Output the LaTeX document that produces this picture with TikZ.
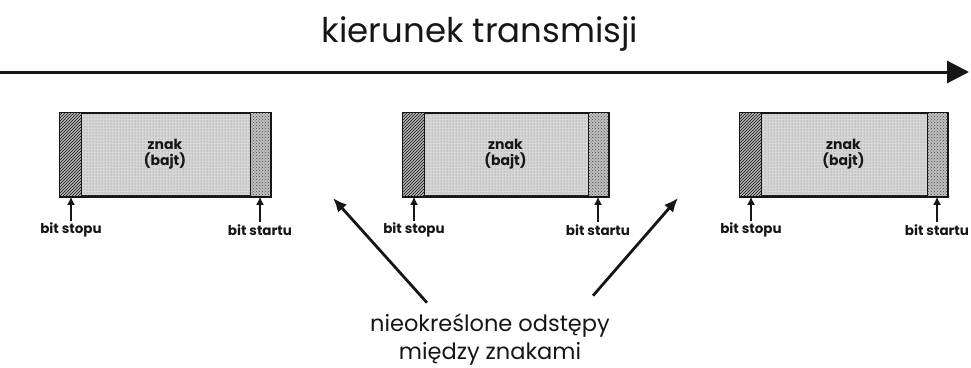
\documentclass[tikz,border=0pt]{standalone}
\usepackage{fontspec}
\setmainfont{Poppins}
\usetikzlibrary{arrows.meta,positioning,patterns}
\definecolor{ink}{HTML}{161616}
\definecolor{paper}{HTML}{D6D6D6}
\tikzset{>=Latex,line width=.8pt,
  every node/.style={text=ink},
  charbox/.style={draw=ink,line width=1.5pt,fill=paper,inner sep=0pt,
    minimum height=83pt,align=center,font=\fontsize{14}{16}\selectfont\bfseries,
    postaction={pattern=dots,pattern color=black!50}},
  stopstrip/.style={fill=black!30,postaction={pattern=north east lines,pattern color=ink}},
  startstrip/.style={fill=black!25,postaction={pattern=crosshatch dots,pattern color=black!70}},
  tick/.style={->,draw=ink,line width=2pt,>={Latex[length=8pt,width=8pt]}},
  bitlabel/.style={font=\fontsize{13.5}{14}\selectfont\bfseries,inner sep=2pt},
  pointer/.style={->,draw=ink,line width=2.8pt,>={Latex[length=14pt,width=12pt]}},
  flow/.style={draw=ink,line width=3pt,-{Triangle[length=22pt,width=22pt]}}}

\begin{document}
\begin{tikzpicture}[x=1pt,y=-1pt]
\useasboundingbox (0,0) rectangle (971,367);
% kierunek
\node[font=\fontsize{34}{36}\selectfont] (title) at (480,34) {kierunek transmisji};
\coordinate (ta) at (0,72);
\coordinate (tb) at (969,72);
\draw[flow] (ta) -- (tb);
% znaki
\foreach \i/\l/\r in {1/60/270,2/403/608,3/740/947}{
  \pgfmathsetmacro{\w}{\r-\l}
  \node[charbox,minimum width=\w pt] (b\i) at ({(\l+\r)/2},154.5) {znak\\(bajt)};
  \fill[stopstrip] (b\i.north west) rectangle ([xshift=22pt]b\i.south west);
  \fill[startstrip] ([xshift=-20pt]b\i.north east) rectangle (b\i.south east);
  \draw[ink,line width=1.2pt] ([xshift=22pt]b\i.north west) -- ([xshift=22pt]b\i.south west);
  \draw[ink,line width=1.2pt] ([xshift=-20pt]b\i.north east) -- ([xshift=-20pt]b\i.south east);
  \draw[ink,line width=1.5pt] (b\i.north west) rectangle (b\i.south east);
  \node[bitlabel] (stop\i) at (\l+11,230) {bit stopu};
  \node[bitlabel] (start\i) at (\r-10,230) {bit startu};
  \draw[tick] (stop\i.north) -- (stop\i.north |- b\i.south);
  \draw[tick] (start\i.north) -- (start\i.north |- b\i.south);
}
% odstepy
\node[align=center,font=\fontsize{22.5}{28}\selectfont] (gap) at (490,340) {nieokreślone odstępy\\między znakami};
\coordinate (gl) at (333,198);
\coordinate (gr) at (678,198);
\draw[pointer] ([xshift=-63pt,yshift=8pt]gap.north) -- (gl);
\draw[pointer] ([xshift=103pt,yshift=15pt]gap.north) -- (gr);
\end{tikzpicture}
\end{document}
